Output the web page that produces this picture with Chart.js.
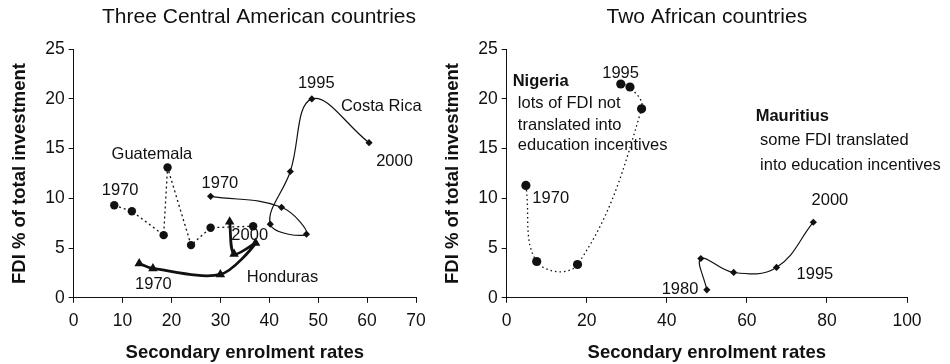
<!DOCTYPE html>
<html>
<head>
<meta charset="utf-8">
<script src="https://cdn.jsdelivr.net/npm/chart.js@4.4.1/dist/chart.umd.min.js"></script>
<style>
  html, body { margin: 0; padding: 0; background: #fff; }
  body { width: 950px; height: 364px; position: relative; overflow: hidden; }
  .box { position: absolute; top: 0; height: 364px; }
  #left { left: 0; width: 475px; }
  #right { left: 438px; width: 512px; }
</style>
</head>
<body>
<div class="box" id="left"><canvas id="cam"></canvas></div>
<div class="box" id="right"><canvas id="afr"></canvas></div>
<script>
// secondary enrolment rate (x) against FDI % of total investment (y), 1970-2000
const guatemalaX = [8.3, 11.9, 18.4, 19.2, 24.0, 28.0, 36.7];
const guatemalaY = [9.3, 8.7, 6.3, 13.1, 5.3, 7.05, 7.2];
const costaRicaX = [28.0, 42.5, 47.6, 40.2, 44.3, 48.7, 60.4];
const costaRicaY = [10.2, 9.1, 6.4, 7.4, 12.7, 20.0, 15.6];
const hondurasX = [13.4, 16.2, 30.0, 37.2, 32.8, 31.9];
const hondurasY = [3.45, 2.95, 2.35, 5.5, 4.4, 7.65];

const nigeriaX = [4.8, 7.5, 17.7, 33.7, 30.8, 28.5];
const nigeriaY = [11.3, 3.65, 3.35, 19.0, 21.2, 21.5];
const mauritiusX = [50.0, 48.5, 56.7, 67.4, 76.6];
const mauritiusY = [0.8, 3.95, 2.55, 3.05, 7.6];

const camXTicks = [0, 10, 20, 30, 40, 50, 60, 70];
const afrXTicks = [0, 20, 40, 60, 80, 100];
const yTicks = [0, 5, 10, 15, 20, 25];

const FONT = '"Liberation Sans", Arial, Helvetica, sans-serif';
const INK = '#111';

const pts = (xs, ys) => xs.map((x, i) => ({ x: x, y: ys[i] }));

// text notes placed in data units
const camNotes = [
  { t: '1970', x: 9.5, y: 10.8 },
  { t: 'Guatemala', x: 16.0, y: 14.4 },
  { t: '1970', x: 29.9, y: 11.5 },
  { t: '1995', x: 49.6, y: 21.6 },
  { t: 'Costa Rica', x: 62.9, y: 19.2 },
  { t: '2000', x: 65.6, y: 13.7 },
  { t: '2000', x: 36.0, y: 6.3 },
  { t: 'Honduras', x: 42.7, y: 2.0 },
  { t: '1970', x: 16.3, y: 1.34 }
];
const afrNotes = [
  { t: 'Nigeria', x: 1.5, y: 21.8, bold: true, align: 'left' },
  { t: 'lots of FDI not', x: 2.8, y: 19.5, align: 'left' },
  { t: 'translated into', x: 2.8, y: 17.35, align: 'left' },
  { t: 'education incentives', x: 2.8, y: 15.3, align: 'left' },
  { t: '1995', x: 28.45, y: 22.6 },
  { t: '1970', x: 11.0, y: 10.0 },
  { t: 'Mauritius', x: 62.2, y: 18.2, bold: true, align: 'left' },
  { t: 'some FDI translated', x: 63.3, y: 15.8, align: 'left' },
  { t: 'into education incentives', x: 63.3, y: 13.3, align: 'left' },
  { t: '2000', x: 80.75, y: 9.75 },
  { t: '1995', x: 77.0, y: 2.35 },
  { t: '1980', x: 43.3, y: 0.87 }
];

const notesPlugin = {
  id: 'notes',
  afterDatasetsDraw(chart, args, opts) {
    const ctx = chart.ctx;
    const xs = chart.scales.x, ys = chart.scales.y;
    ctx.save();
    ctx.fillStyle = INK;
    ctx.textBaseline = 'middle';
    (opts.items || []).forEach(n => {
      ctx.font = (n.bold ? 'bold ' : '') + '16.5px ' + FONT;
      ctx.textAlign = n.align || 'center';
      ctx.fillText(n.t, xs.getPixelForValue(n.x), ys.getPixelForValue(n.y));
    });
    ctx.restore();
  }
};

function series(xs, ys, style) {
  return Object.assign({
    data: pts(xs, ys),
    borderColor: INK,
    backgroundColor: INK,
    pointBorderColor: INK,
    pointBackgroundColor: INK,
    pointBorderWidth: 0,
    borderWidth: 1.2,
    tension: 0.4,
    clip: false
  }, style);
}

function axis(ticks, title, tickPad, titlePad) {
  return {
    type: 'linear',
    min: ticks[0],
    max: ticks[ticks.length - 1],
    afterBuildTicks: s => { s.ticks = ticks.map(v => ({ value: v })); },
    grid: { drawOnChartArea: false, drawTicks: true, tickLength: 5, color: INK },
    border: { color: INK, width: 1 },
    ticks: { color: INK, padding: tickPad, font: { family: FONT, size: 17.5 } },
    title: {
      display: true, text: title, color: INK,
      font: { family: FONT, size: 18.5, weight: 'bold' },
      padding: titlePad
    }
  };
}

function makeChart(id, title, titleAlign, xTicks, datasets, notes, pad) {
  return new Chart(document.getElementById(id), {
    type: 'line',
    data: { datasets: datasets },
    options: {
      responsive: true,
      maintainAspectRatio: false,
      animation: false,
      layout: { padding: pad },
      plugins: {
        legend: { display: false },
        tooltip: { enabled: false },
        title: {
          display: true, text: title, color: INK, fullSize: false, align: titleAlign,
          font: { family: FONT, size: 21, weight: 'normal' },
          padding: { top: 5, bottom: 19 }
        },
        notes: { items: notes }
      },
      scales: {
        x: axis(xTicks, 'Secondary enrolment rates', 8, { top: 2, bottom: 0 }),
        y: axis(yTicks, 'FDI % of total investment', 4, { top: 4, bottom: 10 })
      }
    },
    plugins: [notesPlugin]
  });
}

makeChart('cam', 'Three Central American countries', 'end', camXTicks, [
  series(guatemalaX, guatemalaY, { borderWidth: 1.3, borderDash: [2, 3], tension: 0, pointStyle: 'circle', pointRadius: 4.2 }),
  series(costaRicaX, costaRicaY, { pointStyle: 'rectRot', pointRadius: 3.6 }),
  series(hondurasX, hondurasY, { borderWidth: 2.8, tension: 0.3, pointStyle: 'triangle', pointRadius: 5.5 })
], camNotes, { left: 5, right: 59, top: 0, bottom: 0 });

makeChart('afr', 'Two African countries', 'center', afrXTicks, [
  series(nigeriaX, nigeriaY, { borderWidth: 1.3, borderDash: [1.5, 3], pointStyle: 'circle', pointRadius: 4.6 }),
  series(mauritiusX, mauritiusY, { pointStyle: 'rectRot', pointRadius: 3.6 })
], afrNotes, { left: 0, right: 43, top: 0, bottom: 0 });
</script>
</body>
</html>
